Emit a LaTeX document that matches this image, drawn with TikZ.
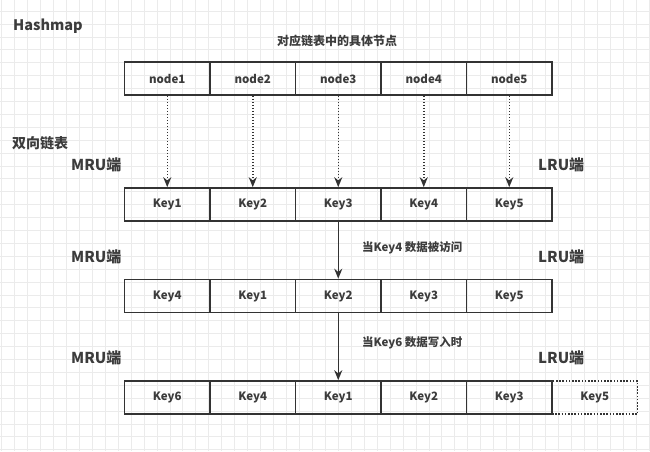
\documentclass[tikz,border=0pt]{standalone}
\usepackage{fontspec}
\setmainfont{Noto Sans CJK SC}
\usetikzlibrary{arrows.meta}
\definecolor{gridc}{HTML}{EBEBEB}
\definecolor{linec}{HTML}{333333}
\definecolor{txtc}{HTML}{3C3C3C}
\tikzset{
  cell/.style={draw=linec, line width=1.6pt, minimum width=85.5pt, minimum height=33pt,
    inner sep=0pt, font=\fontsize{11.5}{13}\selectfont\bfseries, text=txtc},
  ghost/.style={cell, dash pattern=on 1.6pt off 1.6pt},
  lbl/.style={font=\fontsize{15}{17}\selectfont\bfseries, text=txtc, inner sep=0pt, anchor=west},
  note/.style={font=\fontsize{11.5}{13}\selectfont\bfseries, text=txtc, inner sep=0pt},
  dotarrow/.style={draw=linec, line width=1.5pt, dash pattern=on 1.5pt off 1.5pt, -{Stealth[length=10pt,width=8pt]}},
  solarrow/.style={draw=linec, line width=1.5pt, -{Stealth[length=10pt,width=8pt]}}
}
\begin{document}
\begin{tikzpicture}[x=1pt,y=-1pt]
\fill[white] (0,0) rectangle (650,451);
\useasboundingbox (0,0) rectangle (650,451);
\foreach \i in {0,...,50} {\draw[gridc, line width=0.7pt] (1.5+12.95*\i,0) -- (1.5+12.95*\i,451);}
\foreach \j in {0,...,35} {\draw[gridc, line width=0.7pt] (0,-1.8+12.9*\j) -- (650,-1.8+12.9*\j);}

\node[font=\fontsize{14.5}{16}\selectfont\bfseries, text=txtc, inner sep=0pt, anchor=west] (hm) at (13,26.5) {Hashmap};
\node[font=\fontsize{12}{14}\selectfont\bfseries, text=txtc, inner sep=0pt] (title) at (337,40.5) {对应链表中的具体节点};
\node[font=\fontsize{14}{16}\selectfont\bfseries, text=txtc, inner sep=0pt, anchor=west] (dll) at (12,143.5) {双向链表};

% row 1
\node[cell] (a1) at (167.25,78.5) {node1};
\node[cell] (a2) at (252.75,78.5) {node2};
\node[cell] (a3) at (338.25,78.5) {node3};
\node[cell] (a4) at (423.75,78.5) {node4};
\node[cell] (a5) at (509.25,78.5) {node5};

% row 2
\node[lbl] (m1) at (71,165) {MRU端};
\node[lbl] (l1) at (538,165) {LRU端};
\node[cell] (b1) at (167.25,204.5) {Key1};
\node[cell] (b2) at (252.75,204.5) {Key2};
\node[cell] (b3) at (338.25,204.5) {Key3};
\node[cell] (b4) at (423.75,204.5) {Key4};
\node[cell] (b5) at (509.25,204.5) {Key5};

% row 3
\node[lbl] (m2) at (71,256.5) {MRU端};
\node[lbl] (l2) at (538,256.5) {LRU端};
\node[note, anchor=west] (n1) at (362,247.5) {当Key4 数据被访问};
\node[cell] (c1) at (167.25,296) {Key4};
\node[cell] (c2) at (252.75,296) {Key1};
\node[cell] (c3) at (338.25,296) {Key2};
\node[cell] (c4) at (423.75,296) {Key3};
\node[cell] (c5) at (509.25,296) {Key5};

% row 4
\node[lbl] (m3) at (71,357.5) {MRU端};
\node[lbl] (l3) at (538,357.5) {LRU端};
\node[note, anchor=west] (n2) at (362,343) {当Key6 数据写入时};
\node[ghost] (d6) at (594.75,397.5) {Key5};
\node[cell] (d1) at (167.25,397.5) {Key6};
\node[cell] (d2) at (252.75,397.5) {Key4};
\node[cell] (d3) at (338.25,397.5) {Key1};
\node[cell] (d4) at (423.75,397.5) {Key2};
\node[cell] (d5) at (509.25,397.5) {Key3};

% connectors
\foreach \k in {1,...,5} {\draw[dotarrow] (a\k.south) -- (b\k.north);}
\draw[solarrow] (b3.south) -- (c3.north);
\draw[solarrow] (c3.south) -- (d3.north);
\end{tikzpicture}
\end{document}
